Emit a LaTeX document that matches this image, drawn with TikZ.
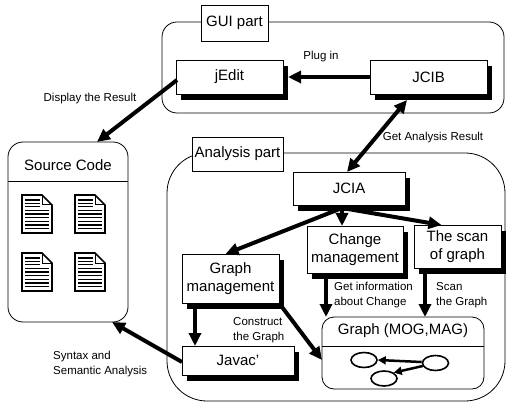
\documentclass[tikz,border=0pt]{standalone}
\usepackage{fontspec}
\setmainfont{Liberation Sans}
\usetikzlibrary{arrows.meta,shadows,calc,shapes.geometric}
\newcommand\boxfnt{\fontsize{15}{18}\selectfont}
\newcommand\smfnt{\fontsize{11.5}{15}\selectfont}
\tikzset{
  container/.style={draw, line width=0.8pt, inner sep=0pt, outer sep=0pt},
  labelbox/.style={draw, fill=white, line width=0.8pt, inner sep=0pt, outer sep=0pt, font=\boxfnt},
  shadowbox/.style={draw, fill=white, line width=0.8pt, inner sep=0pt, outer sep=0pt, font=\boxfnt, align=center,
    drop shadow={shadow xshift=5pt, shadow yshift=-6pt, fill=black, opacity=1}},
  bigarrow/.style={line width=4pt, -{Triangle[length=13pt,width=12pt]}},
  dblarrow/.style={line width=4pt, {Triangle[length=13pt,width=12pt]}-{Triangle[length=13pt,width=12pt]}},
  smallarrow/.style={line width=2.5pt, -{Triangle[length=8pt,width=8pt]}},
  lbl/.style={font=\smfnt, inner sep=0pt, align=left},
  oval/.style={draw, ellipse, line width=1.6pt, minimum width=26pt, minimum height=15pt, inner sep=0pt},
  docicon/.pic={
    \draw[line width=1.6pt, fill=white, line join=miter] (0,0) -- (20,0) -- (30,10) -- (30,38) -- (0,38) -- cycle;
    \draw[line width=1pt] (20,0) -- (20,10) -- (30,10);
    \foreach \yy in {5,8.4,11.8} \draw[line width=1.2pt] (3,\yy) -- (18,\yy);
    \foreach \yy in {15.5,19,22.6,26.4,30,33.4} \draw[line width=1.2pt] (3,\yy) -- (27,\yy);
  }
}
\begin{document}
\begin{tikzpicture}[x=1pt,y=-1pt]
\useasboundingbox (0,0) rectangle (508,403);

% containers
\node[container, rounded corners=15pt, minimum width=342pt, minimum height=91pt] (gui) at (333,67.5) {};
\node[labelbox, minimum width=67pt, minimum height=36pt] (guilbl) at (234.5,23) {GUI part};

\node[container, rounded corners=40pt, minimum width=338pt, minimum height=248pt] (ana) at (336,277) {};
\node[labelbox, minimum width=91pt, minimum height=34pt] (analbl) at (237.5,154) {Analysis part};

\node[container, rounded corners=15pt, minimum width=120pt, minimum height=180pt] (src) at (68,232) {};
\draw[line width=0.8pt] (src.west |- 0,181) coordinate (sl) -- (src.east |- 0,181) coordinate (sr);
\node[font=\boxfnt, inner sep=0pt] (srclbl) at (68,165) {Source Code};
\pic at (22,195) {docicon};
\pic at (75,195) {docicon};
\pic at (22,253) {docicon};
\pic at (75,253) {docicon};

% graph container
\node[container, rounded corners=12pt, minimum width=162pt, minimum height=72pt] (graph) at (403,353) {};
\draw[line width=0.8pt] (graph.west |- 0,346) coordinate (gl) -- (graph.east |- 0,346) coordinate (gr);
\node[font=\boxfnt, inner sep=0pt] (gtitle) at (403,331) {Graph (MOG,MAG)};
\node[oval] (e1) at (364,360) {};
\node[oval] (e2) at (435.5,363) {};
\node[oval] (e3) at (384,378.5) {};
\draw[smallarrow] ($(e2.west)+(0,-1)$) -- (e1.east);
\draw[smallarrow] ($(e2.west)+(1,3)$) -- (e3.north east);

% boxes
\node[shadowbox, minimum width=107pt, minimum height=34pt] (jEdit) at (229.5,77) {jEdit};
\node[shadowbox, minimum width=117pt, minimum height=34pt] (JCIB) at (428.5,77) {JCIB};
\node[shadowbox, minimum width=112pt, minimum height=33pt] (JCIA) at (349,188.5) {JCIA};
\node[shadowbox, minimum width=97pt, minimum height=49pt] (gm) at (230.5,278.5) {Graph\\management};
\node[shadowbox, minimum width=96pt, minimum height=47pt] (chg) at (355,249.5) {Change\\management};
\node[shadowbox, minimum width=87pt, minimum height=43pt] (scan) at (457.5,246.5) {The scan\\of graph};
\node[shadowbox, minimum width=112pt, minimum height=29pt] (jv) at (238,360.5) {Javac'};

% arrows
\draw[bigarrow, line width=3.5pt] (JCIB.west) -- ($(jEdit.east)+(5,0)$);
\draw[bigarrow] ($(jEdit.west)+(1,3)$) -- ($(src.north east)+(-31,0)$);
\draw[dblarrow] ($(JCIB.south)+(-21.5,6)$) -- ($(JCIA.north)+(-2,0)$);

\coordinate (jo) at ($(JCIA.south)+(-7,3)$);
\draw[bigarrow] (jo) -- ($(gm.north)+(-5,0)$);
\draw[bigarrow] (jo) -- (jo |- chg.north);
\draw[bigarrow] (jo) -- ($(scan.north)+(-16,0)$);

\coordinate (gj) at ($(gm.south west)+(13,0)$);
\draw[bigarrow] (gj) -- (gj |- jv.north);
\draw[bigarrow] (gm.south east) -- ($(graph.west)+(0,7)$);
\coordinate (cg) at ($(chg.south west)+(19,0)$);
\draw[bigarrow] (cg) -- (cg |- graph.north);
\coordinate (sg) at ($(scan.south west)+(11,0)$);
\draw[bigarrow] (sg) -- (sg |- graph.north);
\draw[bigarrow] ($(jv.west)+(0,1.5)$) -- ($(src.south east)+(-16,0)$);

% labels
\node[lbl] (lplug) at (321,57) {Plug in};
\node[lbl] (ldisp) at (90,99) {Display the Result};
\node[lbl] (lget) at (433,138) {Get Analysis Result};
\node[lbl, anchor=west] (lcons) at (233,330) {Construct\\the Graph};
\node[lbl, anchor=west] (linfo) at (334,295.5) {Get information\\about Change};
\node[lbl, anchor=west] (lscan) at (436,295.5) {Scan\\the Graph};
\node[lbl, anchor=west] (lsyn) at (53,364.5) {Syntax and\\Semantic Analysis};
\end{tikzpicture}
\end{document}
